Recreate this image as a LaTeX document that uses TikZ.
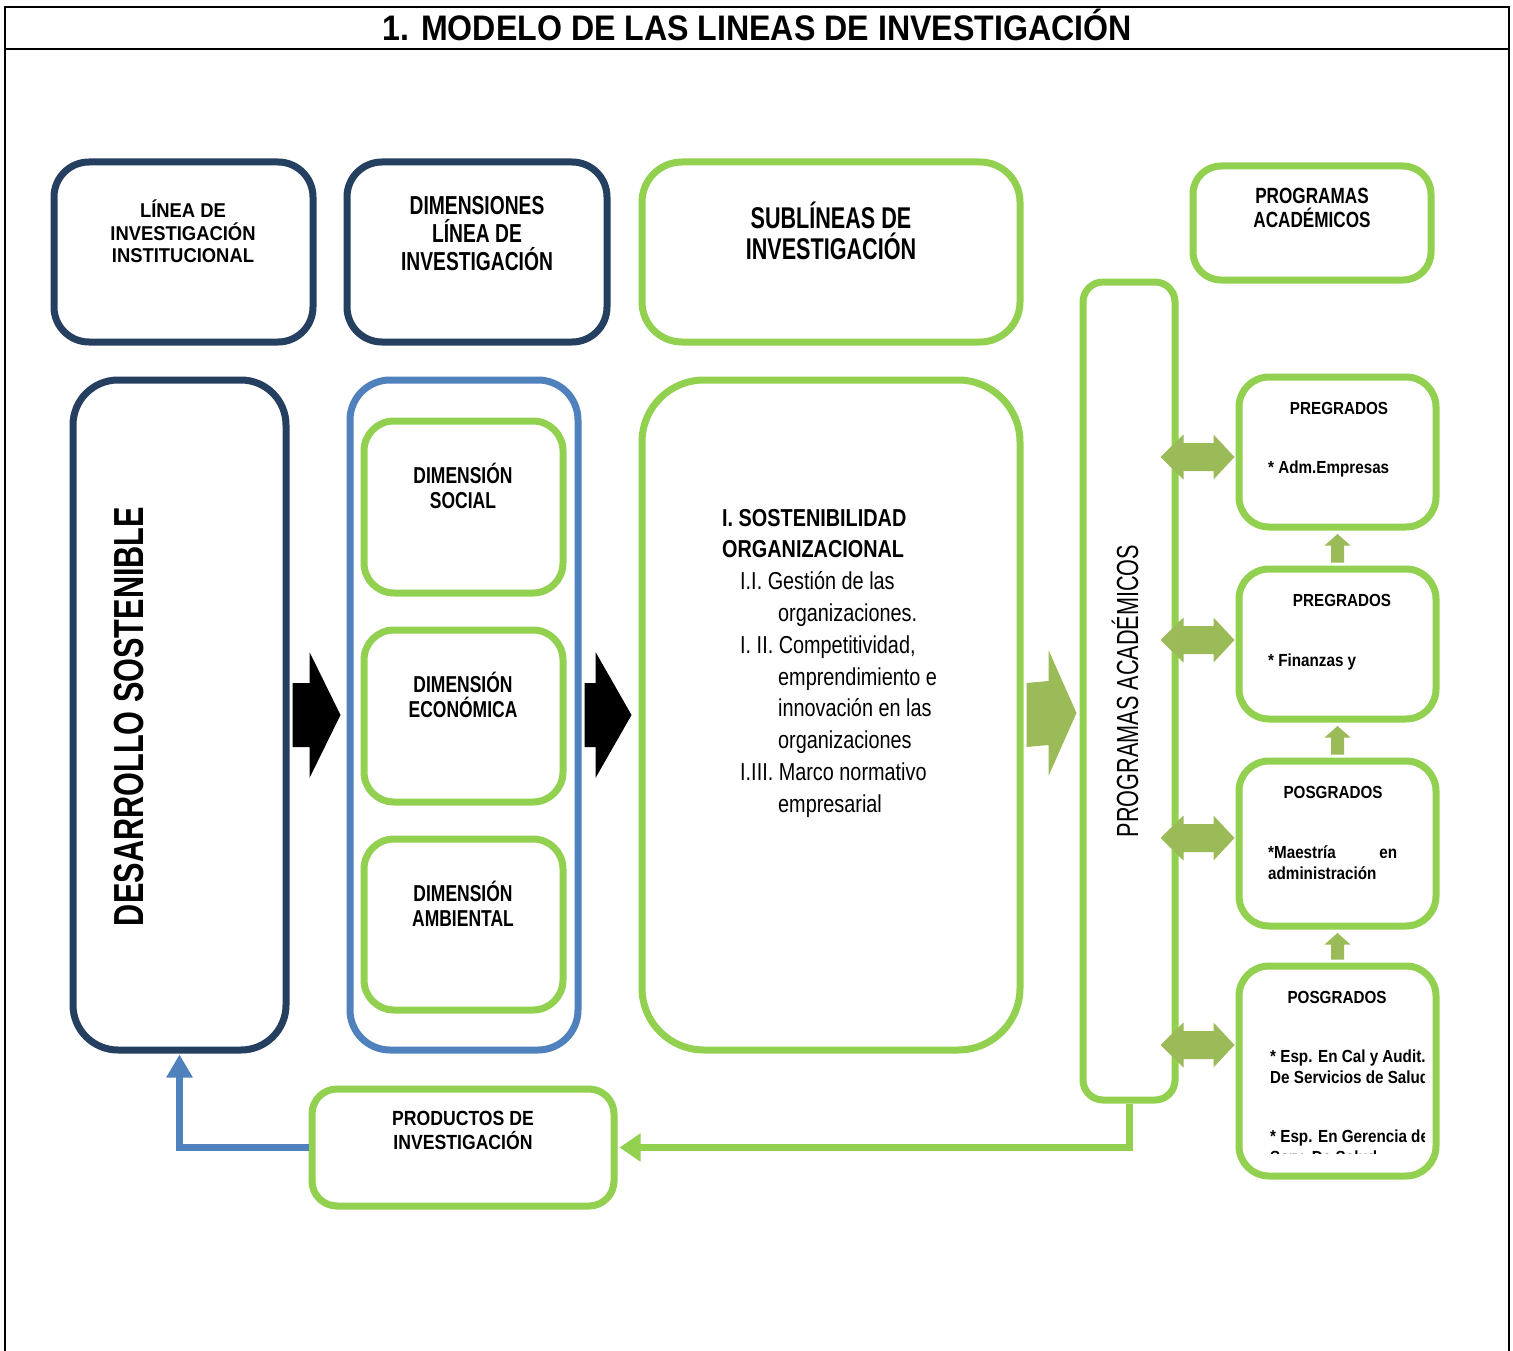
\documentclass[tikz,border=0pt]{standalone}
\usepackage{fontspec}
\usetikzlibrary{arrows.meta,calc}
\setmainfont{Liberation Sans}
\newfontfamily\ffTitle[FakeStretch=0.905]{Liberation Sans}
\newfontfamily\ffA[FakeStretch=0.92]{Liberation Sans}
\newfontfamily\ffB[FakeStretch=0.74]{Liberation Sans}
\newfontfamily\ffC[FakeStretch=0.72]{Liberation Sans}
\newfontfamily\ffD[FakeStretch=0.78]{Liberation Sans}
\newfontfamily\ffE[FakeStretch=0.73]{Liberation Sans}
\newfontfamily\ffF[FakeStretch=0.76]{Liberation Sans}
\newfontfamily\ffG[FakeStretch=0.81]{Liberation Sans}
\newfontfamily\ffH[FakeStretch=0.71]{Liberation Sans}
\newfontfamily\ffR[FakeStretch=0.87]{Liberation Sans}
\newfontfamily\ffP[FakeStretch=0.86]{Liberation Sans}
\newcommand\fz[2]{\fontsize{#1}{#2}\selectfont}
\newcommand\CL[1]{\vtop{\halign{\hfil##\hfil\cr#1\crcr}}}
\newcommand\LL[1]{\vtop{\halign{##\hfil\cr#1\crcr}}}
\definecolor{navycol}{HTML}{243F60}
\definecolor{greencol}{HTML}{92D050}
\definecolor{bluecol}{HTML}{4F81BD}
\definecolor{olivecol}{HTML}{9BBB59}
\newcommand\dblarr[2]{%
  \path (H.east |- 0,#2) coordinate (dl) (#1.west |- 0,#2) coordinate (dr);
  \fill[olivecol] ($(dl)+(-18,0)$) -- ($(dl)+(5,-22.5)$) -- ($(dl)+(5,-14)$) -- ($(dr)+(-22,-14)$) -- ($(dr)+(-22,-22.5)$) -- ($(dr)+(-1,0)$) -- ($(dr)+(-22,22.5)$) -- ($(dr)+(-22,14)$) -- ($(dl)+(5,14)$) -- ($(dl)+(5,22.5)$) -- cycle;}
\newcommand\uparr[2]{%
  \fill[olivecol] ($(#1.north)+(-6.5,-3)$) -- ($(#2.south)+(-6.5,15)$) -- ($(#2.south)+(-13,15)$) -- ($(#2.south)+(0,3.5)$) -- ($(#2.south)+(13,15)$) -- ($(#2.south)+(6.5,15)$) -- ($(#1.north)+(6.5,-3)$) -- cycle;}
\newcommand\blk[4]{%
  \fill[#1] ($(#2)+(0,-32)$) -- ($(#3)+(-#4,-32)$) -- ($(#3)+(-#4,-63)$) -- (#3) -- ($(#3)+(-#4,63)$) -- ($(#3)+(-#4,32)$) -- ($(#2)+(0,32)$) -- cycle;}
\tikzset{
  bx/.style={draw, line width=7pt, rectangle, inner sep=0pt, fill=white},
  txt/.style={inner sep=0pt, anchor=base},
}
\begin{document}
\begin{tikzpicture}[x=1pt,y=-1pt]
\useasboundingbox (0,0) rectangle (1513,1351);
\fill[white] (0,0) rectangle (1513,1351);
% frame
\draw[line width=2pt] (5,1351) -- (5,7) -- (1509,7) -- (1509,1351);
\draw[line width=2pt] (5,49) -- (1509,49);
\node[txt] (title) at (757,40.5) {\ffTitle\bfseries\fz{35.5}{40}1. MODELO DE LAS LINEAS DE INVESTIGACIÓN};
% header boxes
\node[bx, draw=navycol, rounded corners=35pt, minimum width=259pt, minimum height=180pt] (A) at (183.5,252) {};
\node[bx, draw=navycol, rounded corners=35pt, minimum width=260pt, minimum height=180pt] (B) at (477,252) {};
\node[bx, draw=greencol, rounded corners=40pt, minimum width=378pt, minimum height=180pt] (C) at (831,252) {};
\node[bx, draw=greencol, rounded corners=28pt, minimum width=238pt, minimum height=114pt] (D) at (1312,223) {};
\node[txt] (Atext) at (183,218) {\ffA\bfseries\fz{20}{22.5}\CL{LÍNEA DE\cr INVESTIGACIÓN\cr INSTITUCIONAL}};
\node[txt] (Btext) at (477,214.5) {\ffB\bfseries\fz{26}{28}\CL{DIMENSIONES\cr LÍNEA DE\cr INVESTIGACIÓN}};
\node[txt] (Ctext) at (831,229) {\ffC\bfseries\fz{30}{31}\CL{SUBLÍNEAS DE\cr INVESTIGACIÓN}};
\node[txt] (Dtext) at (1312,204) {\ffD\bfseries\fz{22}{24}\CL{PROGRAMAS\cr ACADÉMICOS}};
% main boxes
\node[bx, draw=navycol, rounded corners=45pt, minimum width=213pt, minimum height=670pt] (E) at (179.5,715) {};
\node[txt, rotate=90] (Etext) at (143,716.5) {\ffE\bfseries\fz{42}{44}DESARROLLO SOSTENIBLE};
\node[bx, draw=bluecol, rounded corners=40pt, minimum width=228pt, minimum height=670pt] (F) at (464,715) {};
\node[bx, draw=greencol, rounded corners=30pt, minimum width=199pt, minimum height=172pt] (F1) at (463.5,507) {};
\node[bx, draw=greencol, rounded corners=30pt, minimum width=199pt, minimum height=172pt] (F2) at (463.5,716) {};
\node[bx, draw=greencol, rounded corners=30pt, minimum width=199pt, minimum height=171pt] (F3) at (463.5,924.5) {};
\node[txt] (F1text) at (463,483) {\ffF\bfseries\fz{23}{25}\CL{DIMENSIÓN\cr SOCIAL}};
\node[txt] (F2text) at (463,692) {\ffF\bfseries\fz{23}{25}\CL{DIMENSIÓN\cr ECONÓMICA}};
\node[txt] (F3text) at (463,901) {\ffF\bfseries\fz{23}{25}\CL{DIMENSIÓN\cr AMBIENTAL}};
\node[bx, draw=greencol, rounded corners=62pt, minimum width=378pt, minimum height=670pt] (G) at (831,715) {};
\node[txt, anchor=base west] (Gtext) at (722,526) {\ffG\fz{24.5}{31.8}\LL{\textbf{I. SOSTENIBILIDAD}\cr
\textbf{ORGANIZACIONAL}\cr
\hspace*{18pt}I.I. Gestión de las\cr
\hspace*{56pt}organizaciones.\cr
\hspace*{18pt}I. II. Competitividad,\cr
\hspace*{56pt}emprendimiento e\cr
\hspace*{56pt}innovación en las\cr
\hspace*{56pt}organizaciones\cr
\hspace*{18pt}I.III. Marco normativo\cr
\hspace*{56pt}empresarial}};
\node[bx, draw=greencol, rounded corners=20pt, minimum width=92pt, minimum height=818pt] (H) at (1129,691) {};
\node[txt, rotate=90] (Htext) at (1138,691) {\ffH\fz{30.5}{32}PROGRAMAS ACADÉMICOS};
% right boxes
\node[bx, draw=greencol, rounded corners=30pt, minimum width=197pt, minimum height=150pt] (R1) at (1337.5,452) {};
\node[bx, draw=greencol, rounded corners=30pt, minimum width=197pt, minimum height=150pt] (R2) at (1337.5,644) {};
\node[bx, draw=greencol, rounded corners=30pt, minimum width=197pt, minimum height=165pt] (R3) at (1337.5,843.5) {};
\node[bx, draw=greencol, rounded corners=30pt, minimum width=197pt, minimum height=210pt] (R4) at (1337.5,1071) {};
\node[txt] (R1h) at (1339,414) {\ffR\bfseries\fz{17.5}{21}PREGRADOS};
\node[txt, anchor=base west] (R1t) at (1268,473) {\ffR\bfseries\fz{17.5}{21}* Adm.Empresas};
\node[txt] (R2h) at (1342,606) {\ffR\bfseries\fz{17.5}{21}PREGRADOS};
\node[txt, anchor=base west] (R2t) at (1268,666) {\ffR\bfseries\fz{17.5}{21}* Finanzas y};
\node[txt] (R3h) at (1333,798) {\ffR\bfseries\fz{17.5}{21}POSGRADOS};
\node[txt, anchor=base west] (R3t) at (1268,858) {\ffR\bfseries\fz{17.5}{21}\LL{\makebox[129pt][s]{*Maestría en}\cr administración}};
\node[txt] (R4h) at (1337,1003) {\ffR\bfseries\fz{17.5}{21}POSGRADOS};
\begin{scope}
\clip (1240,966) rectangle (1424,1153);
\node[txt, anchor=base west] (R4t) at (1270,1062) {\ffR\bfseries\fz{17.5}{21}\LL{* Esp. En Cal y Audit.\cr De Servicios de Salud}};
\node[txt, anchor=base west] (R4u) at (1270,1142) {\ffR\bfseries\fz{17.5}{21}\LL{* Esp. En Gerencia de\cr Serv. De Salud}};
\end{scope}
% products box
\node[bx, draw=greencol, rounded corners=25pt, minimum width=302pt, minimum height=117pt] (P) at (463,1147.5) {};
\node[txt] (Ptext) at (463,1125) {\ffP\bfseries\fz{20.5}{24}\CL{PRODUCTOS DE\cr INVESTIGACIÓN}};
% block arrows
\coordinate (a1s) at ($(E.east)+(3,0)$);
\coordinate (a1t) at ($(F.west)+(-6,0)$);
\coordinate (a2s) at ($(F.east)+(3,0)$);
\coordinate (a2t) at ($(G.west)+(-7,0)$);
\coordinate (a3s) at ($(G.east)+(3,0)$);
\coordinate (a3t) at ($(H.west |- G.east)+(-3,-2)$);
\blk{black}{a1s}{a1t}{31}
\blk{black}{a2s}{a2t}{36}
\blk{olivecol}{a3s}{a3t}{28}
% double arrows
\dblarr{R1}{457}
\dblarr{R2}{640}
\dblarr{R3}{838}
\dblarr{R4}{1045}
% up arrows
\uparr{R2}{R1}
\uparr{R3}{R2}
\uparr{R4}{R3}
% connectors
\draw[line width=7pt, draw=bluecol, -{Triangle[width=25pt,length=23pt]}] (P.west) -| ([yshift=-1pt]E.south);
\draw[line width=7pt, draw=greencol, -{Triangle[width=27pt,length=21pt]}] (H.south) |- ([xshift=2pt]P.east);
\end{tikzpicture}
\end{document}
